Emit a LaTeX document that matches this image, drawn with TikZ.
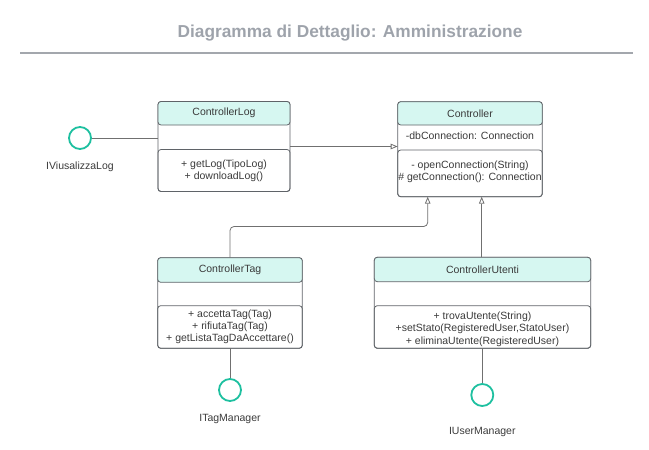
\documentclass[tikz,border=0pt]{standalone}
\usepackage{fontspec}
\setmainfont{Liberation Sans}
\usetikzlibrary{arrows.meta}
\definecolor{titlegray}{HTML}{9EA3AB}
\definecolor{rulegray}{HTML}{A3A7AD}
\definecolor{boxline}{HTML}{5F6368}
\definecolor{headfill}{HTML}{D6F7F1}
\definecolor{teal}{HTML}{1EC0A0}
\definecolor{txt}{HTML}{3A3A3A}
\definecolor{connc}{HTML}{707070}
\tikzset{
  frame/.style={draw=boxline, line width=0.8pt, rounded corners=3pt, inner sep=0pt, outer sep=0pt, anchor=north west},
  headbox/.style={frame, fill=headfill, text=txt, font=\fontsize{10.5}{12.3}\selectfont},
  sect/.style={frame},
  label/.style={text=txt, font=\fontsize{10.5}{12.3}\selectfont, align=center, inner sep=0pt},
  iface/.style={circle, draw=teal, line width=1.8pt, minimum size=22pt, inner sep=0pt},
  conn/.style={draw=connc, line width=0.8pt},
  gen/.style={conn, -{Triangle[open, width=5.5pt, length=7pt, fill=white]}},
}
\begin{document}
\begin{tikzpicture}[x=1pt, y=-1pt]
\useasboundingbox (0,0) rectangle (649,450);
% title
\node[text=titlegray, font=\fontsize{17.3}{20}\selectfont\bfseries] (title) at (350,33) {Diagramma di Dettaglio: Amministrazione};
\draw[rulegray, line width=2pt] (20,52.7) -- (632.7,52.7);

% ControllerLog
\node[frame, minimum width=132pt, minimum height=90pt] (log) at (158,101.5) {};
\node[headbox, minimum width=132pt, minimum height=23.5pt] (logh) at (158,101.5) {ControllerLog};
\node[sect, minimum width=132pt, minimum height=42pt] (logm) at (158,149.5) {};
\node[label] (logmt) at (logm.center) {+ getLog(TipoLog)\\+ downloadLog()};

% Controller
\node[frame, minimum width=144.6pt, minimum height=95pt] (ctrl) at (397.7,101.7) {};
\node[headbox, minimum width=144.6pt, minimum height=23.3pt] (ctrlh) at (397.7,101.7) {Controller};
\node[label] (ctrla) at (470,135.7) {-dbConnection: Connection};
\node[sect, minimum width=144.6pt, minimum height=46.7pt] (ctrlm) at (397.7,150) {};
\node[label] (ctrlmt) at (470,172) {- openConnection(String)\\\# getConnection(): Connection};

% ControllerTag
\node[frame, minimum width=144.6pt, minimum height=90.6pt] (tag) at (157.7,257.7) {};
\node[headbox, minimum width=144.6pt, minimum height=24.6pt] (tagh) at (157.7,257.7) {ControllerTag};
\node[sect, minimum width=144.6pt, minimum height=42.6pt] (tagm) at (157.7,305.7) {};
\node[label] (tagmt) at (230,326.7) {+ accettaTag(Tag)\\+ rifiutaTag(Tag)\\+ getListaTagDaAccettare()};

% ControllerUtenti
\node[frame, minimum width=216.4pt, minimum height=91pt] (ute) at (374.3,257.3) {};
\node[headbox, minimum width=216.4pt, minimum height=24.4pt] (uteh) at (374.3,257.3) {ControllerUtenti};
\node[sect, minimum width=216.4pt, minimum height=42.6pt] (utem) at (374.3,305.7) {};
\node[label] (utemt) at (482.5,329) {+ trovaUtente(String)\\+setStato(RegisteredUser,StatoUser)\\+ eliminaUtente(RegisteredUser)};

% interfaces
\node[iface] (ivl) at (80,138) {};
\node[label] (ivlt) at (80,167) {IViusalizzaLog};
\node[iface] (itm) at (230,390) {};
\node[label] (itmt) at (230,419) {ITagManager};
\node[iface] (ium) at (482.3,395) {};
\node[label] (iumt) at (482.3,431.5) {IUserManager};

% anchor points
\coordinate (logout) at (290,146.5);
\coordinate (ctrlin) at (397.7,146.5);
\coordinate (ctrlb1) at (427.7,196.7);
\coordinate (ctrlb2) at (481.7,196.7);
\coordinate (uteup) at (481.7,257.3);
\coordinate (utedn) at (482.3,348.3);

% connectors
\draw[conn] (ivl) -- (log.west |- ivl);
\draw[gen] (logout) -- (ctrlin);
\draw[gen, rounded corners=4pt] (tag.north) -- (230,226.5) -- (427.7,226.5) -- (ctrlb1);
\draw[gen] (uteup) -- (ctrlb2);
\draw[conn] (tag.south) -- (itm);
\draw[conn] (utedn) -- (ium);
\end{tikzpicture}
\end{document}
